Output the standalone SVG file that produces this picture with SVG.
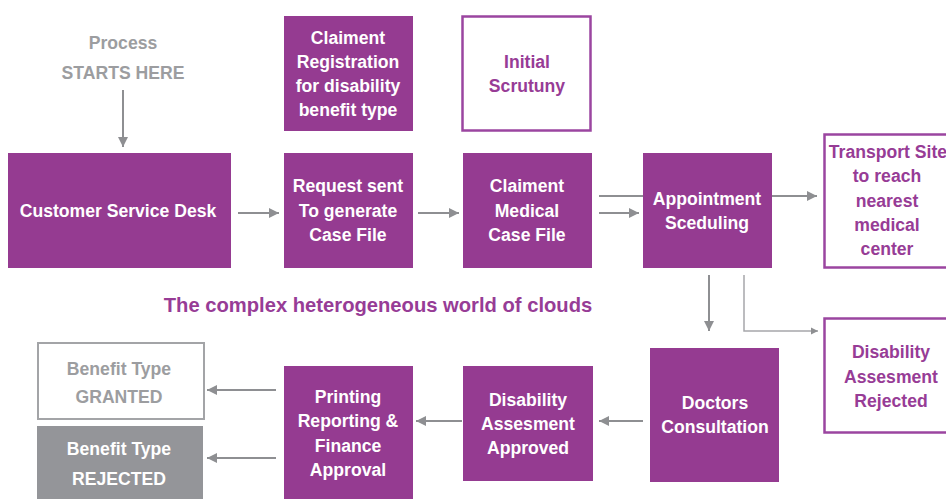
<svg xmlns="http://www.w3.org/2000/svg" width="946" height="499" viewBox="0 0 946 499">
<style>
text{font-family:"Liberation Sans",Arial,sans-serif;font-weight:bold;font-size:17.6px;text-anchor:middle}
.f{fill:#953b91}
.o{fill:#fff;stroke:#9b45a0;stroke-width:2.5}
.w{fill:#fff}
.p{fill:#973c96}
.g{fill:#9c9da0}
.c{stroke:#8e8f92;stroke-width:2;fill:none}
.c2{stroke:#a6a7aa;stroke-width:1.5;fill:none}
</style>
<defs>
<marker id="ah" viewBox="0 0 10 10" refX="10" refY="5" markerWidth="5" markerHeight="5" orient="auto" markerUnits="strokeWidth">
<path d="M0,0 L10,5 L0,10 z" fill="#8e8f92"/>
</marker>
</defs>
<rect width="946" height="499" fill="#fff"/>

<g id="start">
<text class="g" x="123" y="49">Process</text>
<text class="g" x="123" y="79">STARTS HERE</text>
</g>

<g id="claim-reg">
<rect class="f" x="284" y="16" width="129" height="115"/>
<text class="w" x="348" y="44">Claiment</text>
<text class="w" x="348" y="68">Registration</text>
<text class="w" x="348" y="92">for disability</text>
<text class="w" x="348" y="116">benefit type</text>
</g>

<g id="initial-scrutiny">
<rect class="o" x="462.5" y="16.5" width="128" height="114"/>
<text class="p" x="527" y="68">Initial</text>
<text class="p" x="527" y="92">Scrutuny</text>
</g>

<g id="customer-desk">
<rect class="f" x="8" y="153" width="223" height="115"/>
<text class="w" x="118" y="217">Customer Service Desk</text>
</g>

<g id="request-sent">
<rect class="f" x="284" y="153" width="129" height="115"/>
<text class="w" x="348" y="192">Request sent</text>
<text class="w" x="348" y="217">To generate</text>
<text class="w" x="348" y="241">Case File</text>
</g>

<g id="medical-case">
<rect class="f" x="463" y="153" width="129" height="115"/>
<text class="w" x="527" y="192">Claiment</text>
<text class="w" x="527" y="217">Medical</text>
<text class="w" x="527" y="241">Case File</text>
</g>

<g id="appointment">
<rect class="f" x="643" y="153" width="129" height="115"/>
<text class="w" x="707" y="205">Appointment</text>
<text class="w" x="707" y="229">Sceduling</text>
</g>

<g id="transport">
<rect class="o" x="824.5" y="134.5" width="130" height="133"/>
<text class="p" x="888" y="158">Transport Site</text>
<text class="p" x="887" y="182">to reach</text>
<text class="p" x="887" y="207">nearest</text>
<text class="p" x="887" y="231">medical</text>
<text class="p" x="887" y="255">center</text>
</g>

<g id="title">
<text class="p" x="378" y="312" style="font-size:20.2px">The complex heterogeneous world of clouds</text>
</g>

<g id="rejected-assess">
<rect class="o" x="824.5" y="318.5" width="130" height="114"/>
<text class="p" x="891" y="358">Disability</text>
<text class="p" x="891" y="383">Assesment</text>
<text class="p" x="891" y="407">Rejected</text>
</g>

<g id="doctors">
<rect class="f" x="650" y="348" width="129" height="134"/>
<text class="w" x="715" y="409">Doctors</text>
<text class="w" x="715" y="433">Consultation</text>
</g>

<g id="approved">
<rect class="f" x="463" y="366" width="130" height="115"/>
<text class="w" x="528" y="406">Disability</text>
<text class="w" x="528" y="430">Assesment</text>
<text class="w" x="528" y="454">Approved</text>
</g>

<g id="printing">
<rect class="f" x="284" y="366" width="129" height="133"/>
<text class="w" x="348" y="403">Printing</text>
<text class="w" x="348" y="427">Reporting &amp;</text>
<text class="w" x="348" y="452">Finance</text>
<text class="w" x="348" y="476">Approval</text>
</g>

<g id="granted">
<rect x="38" y="343" width="166" height="76" fill="#fff" stroke="#a3a4a7" stroke-width="2"/>
<text class="g" x="119" y="375">Benefit Type</text>
<text class="g" x="119" y="403">GRANTED</text>
</g>

<g id="rejected">
<rect x="37" y="426" width="166" height="73" fill="#949599"/>
<text class="w" x="119" y="455">Benefit Type</text>
<text class="w" x="119" y="485">REJECTED</text>
</g>

<g id="connectors">
<line class="c" x1="123" y1="90" x2="123" y2="147" marker-end="url(#ah)"/>
<line class="c" x1="238" y1="213" x2="279" y2="213" marker-end="url(#ah)"/>
<line class="c" x1="418" y1="213" x2="459" y2="213" marker-end="url(#ah)"/>
<line class="c" x1="599" y1="196" x2="643" y2="196"/>
<line class="c" x1="599" y1="213" x2="639" y2="213" marker-end="url(#ah)"/>
<line class="c" x1="772" y1="196" x2="817" y2="196" marker-end="url(#ah)"/>
<line class="c" x1="709" y1="275" x2="709" y2="331" marker-end="url(#ah)"/>
<polyline class="c2" points="744,275 744,331 818,331" marker-end="url(#ah)"/>
<line class="c" x1="643" y1="421" x2="599" y2="421" marker-end="url(#ah)"/>
<line class="c" x1="462" y1="421" x2="416" y2="421" marker-end="url(#ah)"/>
<line class="c" x1="276" y1="390" x2="207" y2="390" marker-end="url(#ah)"/>
<line class="c" x1="276" y1="458" x2="207" y2="458" marker-end="url(#ah)"/>
</g>
</svg>
